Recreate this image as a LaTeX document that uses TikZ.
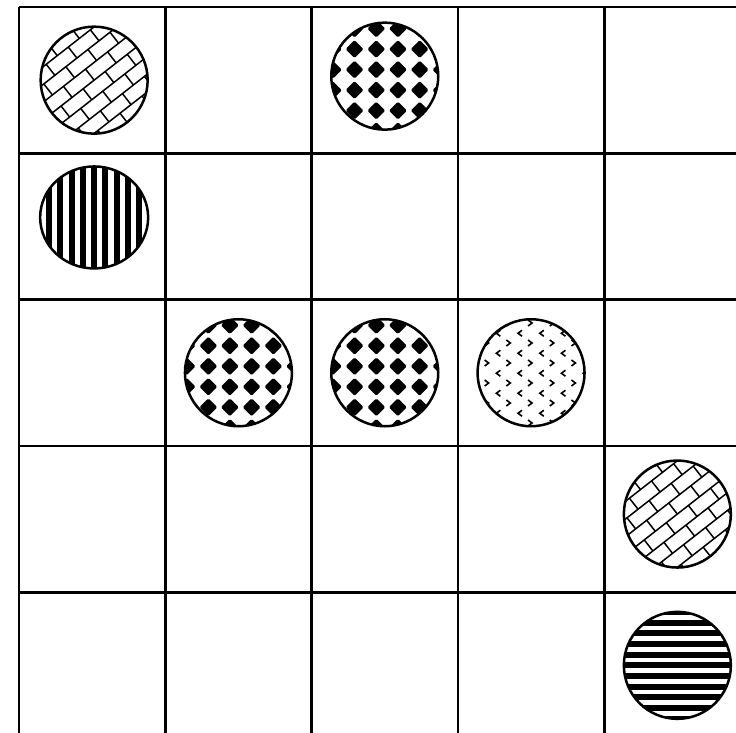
\documentclass[tikz,border=0pt]{standalone}
\usetikzlibrary{calc}

\begin{document}
\begin{tikzpicture}[x=1pt, y=1pt,
    gridline/.style={line width=2.8pt},
    rim/.style={line width=2.5pt},
    pics/bricks/.style={code={
      \begin{scope}
        \clip (0,0) circle[radius=\rr];
        \begin{scope}[rotate=38, line width=1.5pt]
          \foreach \k in {-5,...,5} {
            \draw (-80,{\k*14}) -- (80,{\k*14});
            \foreach \j in {-4,...,4}
              \draw ({\j*28+mod(\k+10,2)*14},{\k*14}) -- ++(0,14);
          }
        \end{scope}
      \end{scope}
      \draw[rim] (0,0) circle[radius=\rr];
    }},
    pics/diamonds/.style={code={
      \begin{scope}
        \clip (0,0) circle[radius=\rr];
        \foreach \i in {-3,...,3}
          \foreach \j in {-3,...,3}
            \fill[shift={({\i*21.7-8.5},{\j*20.5+6.5})}]
              (-8,-1) -- (-8,1) -- (-1,8) -- (1,8)
              -- (8,1) -- (8,-1) -- (1,-8) -- (-1,-8) -- cycle;
      \end{scope}
      \draw[rim] (0,0) circle[radius=\rr];
    }},
    pics/vstripes/.style={code={
      \begin{scope}
        \clip (0,0) ellipse[x radius=54, y radius=51];
        \foreach \k in {-5,...,5}
          \fill ({\k*11.3-3},-60) rectangle ++(6,120);
      \end{scope}
      \draw[rim] (0,0) ellipse[x radius=54, y radius=51];
    }},
    pics/hstripes/.style={code={
      \begin{scope}
        \clip (0,0) circle[radius=\rr];
        \foreach \k in {-6,...,6}
          \fill (-60,{\k*10.7-3}) rectangle ++(120,6);
      \end{scope}
      \draw[rim] (0,0) circle[radius=\rr];
    }},
    pics/chevrons/.style={code={
      \begin{scope}[line width=1.6pt]
        \clip (0,0) circle[radius=\rr];
        % rows of > marks
        \foreach \i in {-3,...,3}
          \foreach \j in {-3,...,2}
            \draw[shift={({\i*21.7-1},{-(\j*20+10.25)})}] (-2,3) -- (2,0) -- (-2,-3);
        % rows of < marks
        \foreach \i in {-3,...,3}
          \foreach \j in {-3,...,3}
            \draw[shift={({\i*21.7+10.7},{-(\j*20+0.5)})}] (2,3) -- (-2,0) -- (2,-3);
      \end{scope}
      \draw[rim] (0,0) circle[radius=\rr];
    }}]
  \def\rr{53.5}
  \useasboundingbox (0,0) rectangle (736,732);
  \clip (0,0) rectangle (736,732);
  % board lines, cut off at the right and bottom edges
  \foreach \i in {0,...,5} {
    \draw[gridline] ({19+146.3*\i},725) -- ({19+146.3*\i},-20);
    \draw[gridline] (19,{725-146.3*\i}) -- (760,{725-146.3*\i});
  }
  % discs: column/row/lift/pattern
  \foreach \c/\r/\d/\p in {0/0/0/bricks, 2/0/4/diamonds, 0/1/9/vstripes,
      1/2/0/diamonds, 2/2/0/diamonds, 3/2/0/chevrons, 4/3/5/bricks, 4/4/0/hstripes}
    \pic (disc\c\r) at ({92.15+146.3*\c+(\c==0)*2},{651.85-146.3*\r+\d}) {\p};
\end{tikzpicture}
\end{document}
